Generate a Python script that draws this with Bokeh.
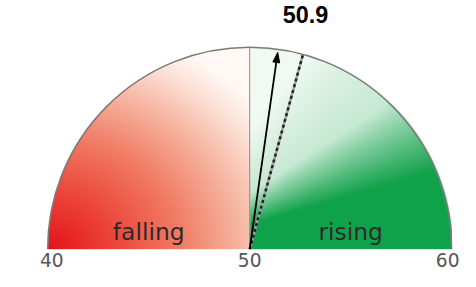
import numpy as np
from bokeh.plotting import figure
from bokeh.models import Range1d
from bokeh.core.properties import value
from bokeh.embed import file_html
from bokeh.resources import INLINE

# ---- data ----
gauge_min = 40
gauge_max = 60
tick_values = [40, 50, 60]
tick_labels = ["40", "50", "60"]
zone_labels = ["falling", "rising"]
zone_centers = [45, 55]
current_value = 50.9
previous_value = 51.7


def ang(v):
    return np.pi * (1 - (v - gauge_min) / (gauge_max - gauge_min))


p = figure(width=460, height=271,
           x_range=Range1d(-1.2337, 1.0436), y_range=Range1d(-0.1104, 1.2312),
           x_axis_type=None, y_axis_type=None,
           output_backend="svg", toolbar_location=None, min_border=0)
p.grid.visible = False
p.outline_line_color = None
p.background_fill_color = "white"
p.border_fill_color = "white"

# ---- gradient fill of the two halves ----
N = 202
W, H = 2 * N, N
xs = -1 + (np.arange(W) + 0.5) / N
ys = (np.arange(H) + 0.5) / N
X, Y = np.meshgrid(xs, ys)
R = np.hypot(X, Y)
alpha = np.clip((1 - R) * N + 0.5, 0, 1)

# left (red) : elliptical fade from the bottom-left corner
dl = np.sqrt(0.8 * (X + 1) ** 2 + 1.1 * Y ** 2)
s_left = np.clip(1 - 0.85 * dl, 0, 1)
stops = [0, 0.1, 0.3, 0.5, 0.75, 1.0]
red_stops = np.array([(255, 248, 244), (252, 228, 218), (246, 176, 155),
                      (241, 125, 102), (236, 70, 58), (228, 18, 26)], dtype=float)
left_rgb = np.stack([np.interp(s_left, stops, red_stops[:, k]) for k in range(3)], -1)

# right (green) : fade from the bottom-right to the upper-left
y_solid = 0.165 + 0.28 * (X - 0.15)
y_pale = 0.293 + 0.645 * (X - 0.026)
t = (Y - y_solid) / np.maximum(y_pale - y_solid, 0.05)
s_right = np.interp(t, [0, 0.5, 1, 3.0], [1, 0.6, 0.22, 0.04])
green = np.array([16, 162, 74], dtype=float)
white = np.array([250, 253, 250], dtype=float)
right_rgb = white * (1 - s_right[..., None]) + green * s_right[..., None]

rgb = np.where((X < 0)[..., None], left_rgb, right_rgb)

img = np.empty((H, W), dtype=np.uint32)
view = img.view(dtype=np.uint8).reshape((H, W, 4))
for k in range(3):
    view[..., k] = np.clip(rgb[..., k], 0, 255).astype(np.uint8)
view[..., 3] = (alpha * 255).astype(np.uint8)
p.image_rgba(image=[img], x=-1, y=0, dw=2, dh=1)

# ---- outline ----
p.arc(x=0, y=0, radius=1, start_angle=0, end_angle=np.pi,
      line_color="#7a7a7a", line_width=1.5)
a_mid = ang(tick_values[1])
p.segment(x0=0, y0=0, x1=np.cos(a_mid), y1=np.sin(a_mid),
          line_color="#8c8c8c", line_width=1)

# ---- previous value (dashed) ----
a_prev = ang(previous_value)
px, py = [0, 0.995 * np.cos(a_prev)], [0, 0.995 * np.sin(a_prev)]
p.line(px, py, line_color="#a0a0a0", line_width=2.5)
p.line(px, py, line_color="#222222", line_width=2.5, line_dash="3 3")

# ---- current value arrow ----
a_cur = ang(current_value)
r_tip, head_len, head_hw = 0.984, 0.05, 0.017
ux, uy = np.cos(a_cur), np.sin(a_cur)
nx, ny = -uy, ux
p.line([0, (r_tip - head_len) * ux], [0, (r_tip - head_len) * uy],
       line_color="black", line_width=1.8)
bx, by = (r_tip - head_len) * ux, (r_tip - head_len) * uy
p.patch([r_tip * ux, bx + head_hw * nx, bx - head_hw * nx],
        [r_tip * uy, by + head_hw * ny, by - head_hw * ny],
        fill_color="black", line_color="black", line_width=1)

# ---- zone labels ----
zx = [0.5 * np.sign(np.cos(ang(v))) for v in zone_centers]
p.text(x=zx, y=[0.0835] * 2, text=zone_labels,
       text_font=value("DejaVu Sans"), text_font_size="23.4px",
       text_align="center", text_baseline="middle", text_color="#2b2b2b")

# ---- tick labels ----
tx = [0.98 * np.cos(ang(v)) for v in tick_values]
p.text(x=tx, y=[-0.0528] * 3, text=tick_labels,
       text_font=value("DejaVu Sans"), text_font_size="18.6px",
       text_align="center", text_baseline="middle", text_color="#555555")

# ---- title value ----
p.text(x=[0.2766], y=[1.161], text=[f"{current_value:.1f}"],
       text_font=value("Liberation Sans"), text_font_style="bold",
       text_font_size="23.4px", text_align="center", text_baseline="middle",
       text_color="black")

open("out.html", "w").write(file_html(p, INLINE))
